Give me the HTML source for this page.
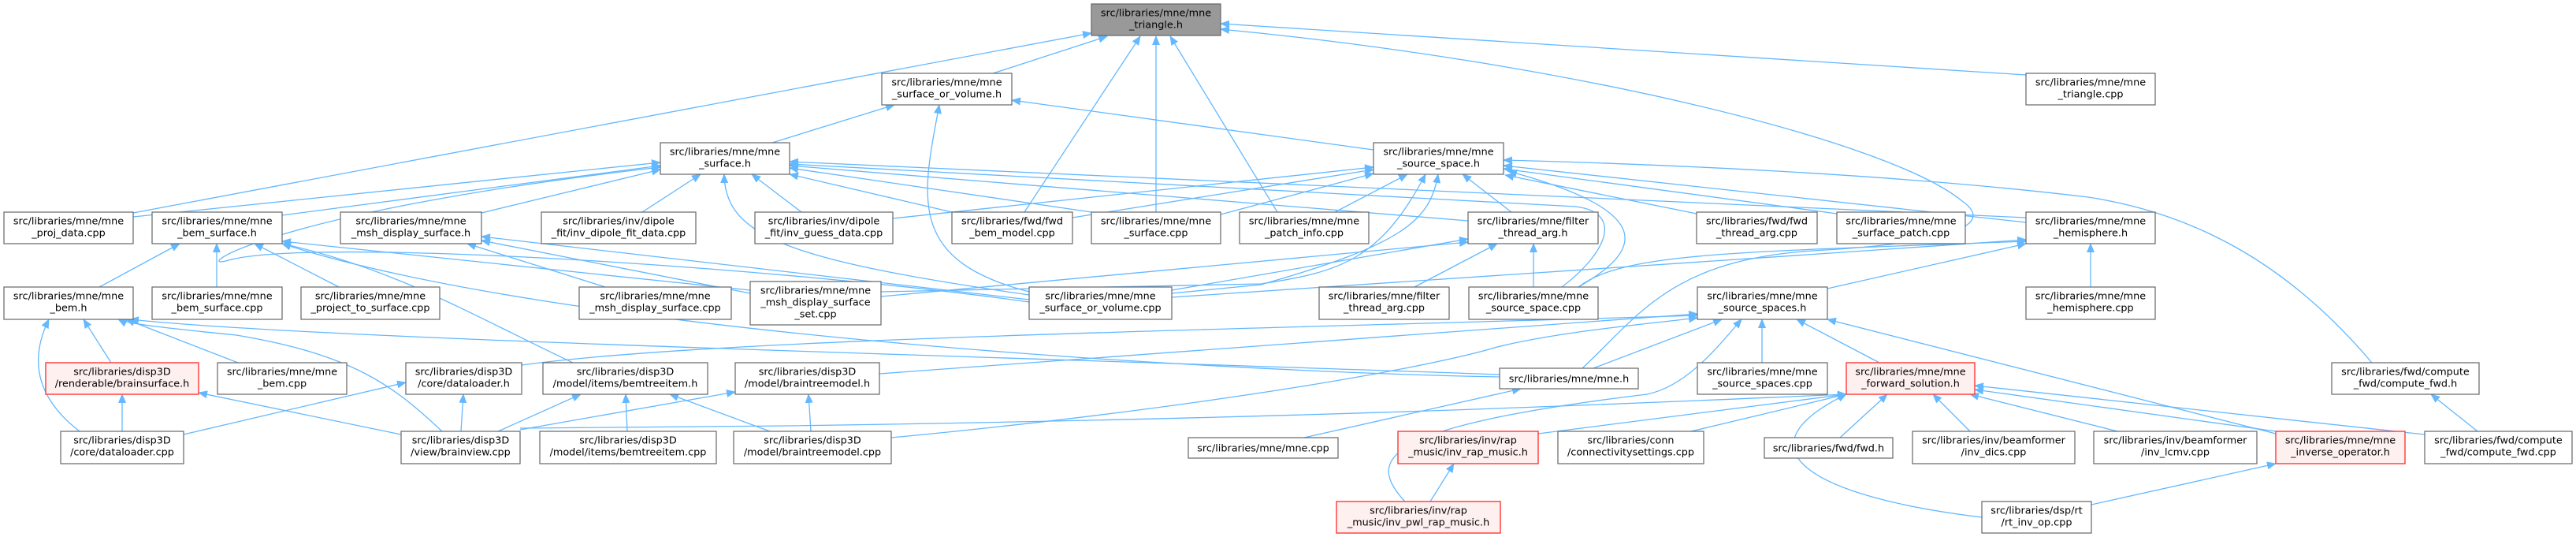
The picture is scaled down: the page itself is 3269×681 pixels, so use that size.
<!DOCTYPE html>
<html><head><meta charset="utf-8"><style>
html,body{margin:0;padding:0;background:#fff;}
svg{display:block;}
text{font-family:"DejaVu Sans","Liberation Sans",sans-serif;font-size:12.8px;fill:#000;text-anchor:middle;}
.n{fill:#fff;stroke:#666;stroke-width:1.2;}
.r{fill:#fff0f0;stroke:#f44;stroke-width:1.5;}
.g{fill:#999;stroke:#666;stroke-width:1.2;}
.e{fill:none;stroke:#63b8ff;stroke-width:1.3;}
</style></head><body>
<svg width="3269" height="681" viewBox="0 0 3269 681" xmlns="http://www.w3.org/2000/svg">
<defs><marker id="a" markerUnits="userSpaceOnUse" markerWidth="12" markerHeight="10" refX="11" refY="5" orient="auto"><path d="M0,0 L12,5 L0,10 z" fill="#63b8ff"/></marker></defs>
<g class="edges">
<path class="e" marker-end="url(#a)" d="M169,270 L1385,42"/>
<path class="e" marker-end="url(#a)" d="M1260,93 L1405,46"/>
<path class="e" marker-end="url(#a)" d="M1300,269 L1447,46"/>
<path class="e" marker-end="url(#a)" d="M1467,269 L1467,46"/>
<path class="e" marker-end="url(#a)" d="M1621,269 L1485,46"/>
<path class="e" marker-end="url(#a)" d="M2571,95 L1549,30"/>
<path class="e" marker-end="url(#a)" d="M2008,467 C2080,400 2120,330 2300,318 C2450,310 2540,290 2490,255 C2400,180 2000,80 1549,37"/>
<path class="e" marker-end="url(#a)" d="M980,181 L1135,133"/>
<path class="e" marker-end="url(#a)" d="M1306,370 C1150,330 1170,250 1192,133"/>
<path class="e" marker-end="url(#a)" d="M1743,190 L1284,127"/>
<path class="e" marker-end="url(#a)" d="M169,275 L838,206"/>
<path class="e" marker-end="url(#a)" d="M358,273 L838,210"/>
<path class="e" marker-end="url(#a)" d="M611,270 L838,215"/>
<path class="e" marker-end="url(#a)" d="M815,269 L889,221"/>
<path class="e" marker-end="url(#a)" d="M1017,269 L954,221"/>
<path class="e" marker-end="url(#a)" d="M1306,374 C1000,330 920,300 919,221"/>
<path class="e" marker-end="url(#a)" d="M1208,269 L1002,221"/>
<path class="e" marker-end="url(#a)" d="M1385,269 L1002,213"/>
<path class="e" marker-end="url(#a)" d="M2571,276 L1002,205"/>
<path class="e" marker-end="url(#a)" d="M1863,280 L1002,210"/>
<path class="e" marker-end="url(#a)" d="M1982,364 C2040,320 2060,270 2000,262 L1002,208"/>
<path class="e" marker-end="url(#a)" d="M1306,383 C1000,340 400,300 290,330 C240,345 330,270 838,212"/>
<path class="e" marker-end="url(#a)" d="M1133,277 L1743,212"/>
<path class="e" marker-end="url(#a)" d="M1361,276 L1743,215"/>
<path class="e" marker-end="url(#a)" d="M1549,272 L1743,220"/>
<path class="e" marker-end="url(#a)" d="M1694,269 L1786,221"/>
<path class="e" marker-end="url(#a)" d="M1918,269 L1856,221"/>
<path class="e" marker-end="url(#a)" d="M2003,364 C2080,320 2110,270 1914,217"/>
<path class="e" marker-end="url(#a)" d="M2153,271 L1910,222"/>
<path class="e" marker-end="url(#a)" d="M2331,271 L1908,214"/>
<path class="e" marker-end="url(#a)" d="M2571,282 L1908,210"/>
<path class="e" marker-end="url(#a)" d="M3010,460 C2900,330 2780,270 2650,250 C2400,220 2100,208 1908,203"/>
<path class="e" marker-end="url(#a)" d="M1118,370 L1600,360 C1700,345 1752,330 1809,221"/>
<path class="e" marker-end="url(#a)" d="M1487,372 L1600,361 C1780,310 1815,280 1825,221"/>
<path class="e" marker-end="url(#a)" d="M1795,364 L1900,309"/>
<path class="e" marker-end="url(#a)" d="M1946,364 L1946,309"/>
<path class="e" marker-end="url(#a)" d="M1118,376 L1863,307"/>
<path class="e" marker-end="url(#a)" d="M1487,368 L1863,303"/>
<path class="e" marker-end="url(#a)" d="M2653,364 L2653,309"/>
<path class="e" marker-end="url(#a)" d="M2319,366 L2571,309"/>
<path class="e" marker-end="url(#a)" d="M2003,364 C2060,320 2200,320 2571,306"/>
<path class="e" marker-end="url(#a)" d="M1487,377 C1800,355 2200,330 2571,304"/>
<path class="e" marker-end="url(#a)" d="M2236,460 L2236,405"/>
<path class="e" marker-end="url(#a)" d="M2385,460 L2280,405"/>
<path class="e" marker-end="url(#a)" d="M2022,467 L2185,405"/>
<path class="e" marker-end="url(#a)" d="M1783,636 C1730,580 1760,540 2090,500 C2140,490 2180,440 2210,405"/>
<path class="e" marker-end="url(#a)" d="M1116,474 L2154,398"/>
<path class="e" marker-end="url(#a)" d="M662,463 C900,430 1500,420 2154,400"/>
<path class="e" marker-end="url(#a)" d="M1131,555 C1500,520 1800,470 1900,440 C1980,420 2100,410 2154,403"/>
<path class="e" marker-end="url(#a)" d="M2888,550 L2319,405"/>
<path class="e" marker-end="url(#a)" d="M2335,555 L2395,500"/>
<path class="e" marker-end="url(#a)" d="M2500,547 L2453,500"/>
<path class="e" marker-end="url(#a)" d="M2687,547 L2500,500"/>
<path class="e" marker-end="url(#a)" d="M2888,547 L2506,494"/>
<path class="e" marker-end="url(#a)" d="M3077,551 L2506,489"/>
<path class="e" marker-end="url(#a)" d="M2515,656 C2300,630 2200,570 2343,500"/>
<path class="e" marker-end="url(#a)" d="M2146,547 L2343,500"/>
<path class="e" marker-end="url(#a)" d="M1952,550 L2343,500"/>
<path class="e" marker-end="url(#a)" d="M660,543 L1000,540 C1700,530 2100,510 2343,500"/>
<path class="e" marker-end="url(#a)" d="M1655,555 L1930,493"/>
<path class="e" marker-end="url(#a)" d="M1903,478 C1500,470 700,420 358,309"/>
<path class="e" marker-end="url(#a)" d="M727,460 C600,400 500,340 358,309"/>
<path class="e" marker-end="url(#a)" d="M952,368 L358,306"/>
<path class="e" marker-end="url(#a)" d="M141,460 L106,405"/>
<path class="e" marker-end="url(#a)" d="M101,547 C40,500 40,450 62,405"/>
<path class="e" marker-end="url(#a)" d="M302,460 L160,405"/>
<path class="e" marker-end="url(#a)" d="M561,547 C500,490 450,450 300,425 C200,415 160,410 150,405"/>
<path class="e" marker-end="url(#a)" d="M1903,475 C1200,450 400,430 165,405"/>
<path class="e" marker-end="url(#a)" d="M155,547 L155,500"/>
<path class="e" marker-end="url(#a)" d="M509,551 L252,498"/>
<path class="e" marker-end="url(#a)" d="M233,551 L515,485"/>
<path class="e" marker-end="url(#a)" d="M585,547 L588,500"/>
<path class="e" marker-end="url(#a)" d="M632,547 L737,500"/>
<path class="e" marker-end="url(#a)" d="M796,547 L794,500"/>
<path class="e" marker-end="url(#a)" d="M977,547 L850,500"/>
<path class="e" marker-end="url(#a)" d="M660,545 L933,497"/>
<path class="e" marker-end="url(#a)" d="M1029,547 L1026,500"/>
<path class="e" marker-end="url(#a)" d="M768,364 L593,309"/>
<path class="e" marker-end="url(#a)" d="M952,372 L611,305"/>
<path class="e" marker-end="url(#a)" d="M1306,380 L611,300"/>
<path class="e" marker-end="url(#a)" d="M126,364 L228,309"/>
<path class="e" marker-end="url(#a)" d="M275,364 L275,309"/>
<path class="e" marker-end="url(#a)" d="M430,364 L323,309"/>
<path class="e" marker-end="url(#a)" d="M2654,640 L2888,588"/>
<path class="e" marker-end="url(#a)" d="M3144,547 L3085,500"/>
<path class="e" marker-end="url(#a)" d="M1815,636 L1845,588"/>
</g>
<g class="nodes">
<rect class="g" x="1385" y="5" width="164" height="40"/><text x="1467" y="20.5">src/libraries/mne/mne</text><text x="1467" y="35.5">_triangle.h</text>
<rect class="n" x="1119" y="93" width="165" height="40"/><text x="1201.5" y="108.5">src/libraries/mne/mne</text><text x="1201.5" y="123.5">_surface_or_volume.h</text>
<rect class="n" x="2571" y="93" width="164" height="40"/><text x="2653" y="108.5">src/libraries/mne/mne</text><text x="2653" y="123.5">_triangle.cpp</text>
<rect class="n" x="838" y="181" width="164" height="40"/><text x="920" y="196.5">src/libraries/mne/mne</text><text x="920" y="211.5">_surface.h</text>
<rect class="n" x="1743" y="181" width="165" height="40"/><text x="1825.5" y="196.5">src/libraries/mne/mne</text><text x="1825.5" y="211.5">_source_space.h</text>

<rect class="n" x="5" y="269" width="164" height="40"/><text x="87" y="284.5">src/libraries/mne/mne</text><text x="87" y="299.5">_proj_data.cpp</text>
<rect class="n" x="193" y="269" width="165" height="40"/><text x="275.5" y="284.5">src/libraries/mne/mne</text><text x="275.5" y="299.5">_bem_surface.h</text>
<rect class="n" x="432" y="269" width="179" height="40"/><text x="521.5" y="284.5">src/libraries/mne/mne</text><text x="521.5" y="299.5">_msh_display_surface.h</text>
<rect class="n" x="687" y="269" width="196" height="40"/><text x="785" y="284.5">src/libraries/inv/dipole</text><text x="785" y="299.5">_fit/inv_dipole_fit_data.cpp</text>
<rect class="n" x="958" y="269" width="175" height="40"/><text x="1045.5" y="284.5">src/libraries/inv/dipole</text><text x="1045.5" y="299.5">_fit/inv_guess_data.cpp</text>
<rect class="n" x="1208" y="269" width="153" height="40"/><text x="1284.5" y="284.5">src/libraries/fwd/fwd</text><text x="1284.5" y="299.5">_bem_model.cpp</text>
<rect class="n" x="1385" y="269" width="164" height="40"/><text x="1467" y="284.5">src/libraries/mne/mne</text><text x="1467" y="299.5">_surface.cpp</text>
<rect class="n" x="1573" y="269" width="164" height="40"/><text x="1655" y="284.5">src/libraries/mne/mne</text><text x="1655" y="299.5">_patch_info.cpp</text>
<rect class="n" x="1863" y="269" width="165" height="40"/><text x="1945.5" y="284.5">src/libraries/mne/filter</text><text x="1945.5" y="299.5">_thread_arg.h</text>
<rect class="n" x="2153" y="269" width="153" height="40"/><text x="2229.5" y="284.5">src/libraries/fwd/fwd</text><text x="2229.5" y="299.5">_thread_arg.cpp</text>
<rect class="n" x="2331" y="269" width="163" height="40"/><text x="2412.5" y="284.5">src/libraries/mne/mne</text><text x="2412.5" y="299.5">_surface_patch.cpp</text>
<rect class="n" x="2571" y="269" width="164" height="40"/><text x="2653" y="284.5">src/libraries/mne/mne</text><text x="2653" y="299.5">_hemisphere.h</text>

<rect class="n" x="5" y="364" width="164" height="41"/><text x="87" y="379.5">src/libraries/mne/mne</text><text x="87" y="394.5">_bem.h</text>
<rect class="n" x="193" y="364" width="165" height="41"/><text x="275.5" y="379.5">src/libraries/mne/mne</text><text x="275.5" y="394.5">_bem_surface.cpp</text>
<rect class="n" x="382" y="364" width="176" height="41"/><text x="470" y="379.5">src/libraries/mne/mne</text><text x="470" y="394.5">_project_to_surface.cpp</text>
<rect class="n" x="735" y="364" width="193" height="41"/><text x="831.5" y="379.5">src/libraries/mne/mne</text><text x="831.5" y="394.5">_msh_display_surface.cpp</text>
<rect class="n" x="952" y="357" width="166" height="55"/><text x="1035" y="372.5">src/libraries/mne/mne</text><text x="1035" y="387.5">_msh_display_surface</text><text x="1035" y="402.5">_set.cpp</text>
<rect class="n" x="1306" y="364" width="181" height="41"/><text x="1396.5" y="379.5">src/libraries/mne/mne</text><text x="1396.5" y="394.5">_surface_or_volume.cpp</text>
<rect class="n" x="1674" y="364" width="165" height="41"/><text x="1756.5" y="379.5">src/libraries/mne/filter</text><text x="1756.5" y="394.5">_thread_arg.cpp</text>
<rect class="n" x="1864" y="364" width="164" height="41"/><text x="1946" y="379.5">src/libraries/mne/mne</text><text x="1946" y="394.5">_source_space.cpp</text>
<rect class="n" x="2154" y="364" width="165" height="41"/><text x="2236.5" y="379.5">src/libraries/mne/mne</text><text x="2236.5" y="394.5">_source_spaces.h</text>
<rect class="n" x="2571" y="364" width="164" height="41"/><text x="2653" y="379.5">src/libraries/mne/mne</text><text x="2653" y="394.5">_hemisphere.cpp</text>

<rect class="r" x="58" y="460" width="194" height="40"/><text x="155" y="475.5">src/libraries/disp3D</text><text x="155" y="490.5">/renderable/brainsurface.h</text>
<rect class="n" x="276" y="460" width="164" height="40"/><text x="358" y="475.5">src/libraries/mne/mne</text><text x="358" y="490.5">_bem.cpp</text>
<rect class="n" x="515" y="460" width="147" height="40"/><text x="588.5" y="475.5">src/libraries/disp3D</text><text x="588.5" y="490.5">/core/dataloader.h</text>
<rect class="n" x="689" y="460" width="209" height="40"/><text x="793.5" y="475.5">src/libraries/disp3D</text><text x="793.5" y="490.5">/model/items/bemtreeitem.h</text>
<rect class="n" x="933" y="460" width="183" height="40"/><text x="1024.5" y="475.5">src/libraries/disp3D</text><text x="1024.5" y="490.5">/model/braintreemodel.h</text>
<rect class="n" x="1903" y="467" width="176" height="26"/><text x="1991" y="484.5">src/libraries/mne/mne.h</text>
<rect class="n" x="2154" y="460" width="165" height="40"/><text x="2236.5" y="475.5">src/libraries/mne/mne</text><text x="2236.5" y="490.5">_source_spaces.cpp</text>
<rect class="r" x="2343" y="460" width="163" height="40"/><text x="2424.5" y="475.5">src/libraries/mne/mne</text><text x="2424.5" y="490.5">_forward_solution.h</text>
<rect class="n" x="2959" y="460" width="187" height="40"/><text x="3052.5" y="475.5">src/libraries/fwd/compute</text><text x="3052.5" y="490.5">_fwd/compute_fwd.h</text>

<rect class="n" x="77" y="547" width="156" height="41"/><text x="155" y="562.5">src/libraries/disp3D</text><text x="155" y="577.5">/core/dataloader.cpp</text>
<rect class="n" x="509" y="547" width="151" height="41"/><text x="584.5" y="562.5">src/libraries/disp3D</text><text x="584.5" y="577.5">/view/brainview.cpp</text>
<rect class="n" x="685" y="547" width="224" height="41"/><text x="797" y="562.5">src/libraries/disp3D</text><text x="797" y="577.5">/model/items/bemtreeitem.cpp</text>
<rect class="n" x="931" y="547" width="200" height="41"/><text x="1031" y="562.5">src/libraries/disp3D</text><text x="1031" y="577.5">/model/braintreemodel.cpp</text>
<rect class="n" x="1508" y="555" width="190" height="26"/><text x="1603" y="572.5">src/libraries/mne/mne.cpp</text>
<rect class="r" x="1774" y="547" width="178" height="41"/><text x="1863" y="562.5">src/libraries/inv/rap</text><text x="1863" y="577.5">_music/inv_rap_music.h</text>
<rect class="n" x="1977" y="547" width="185" height="41"/><text x="2069.5" y="562.5">src/libraries/conn</text><text x="2069.5" y="577.5">/connectivitysettings.cpp</text>
<rect class="n" x="2239" y="555" width="163" height="26"/><text x="2320.5" y="572.5">src/libraries/fwd/fwd.h</text>
<rect class="n" x="2427" y="547" width="206" height="41"/><text x="2530" y="562.5">src/libraries/inv/beamformer</text><text x="2530" y="577.5">/inv_dics.cpp</text>
<rect class="n" x="2657" y="547" width="207" height="41"/><text x="2760.5" y="562.5">src/libraries/inv/beamformer</text><text x="2760.5" y="577.5">/inv_lcmv.cpp</text>
<rect class="r" x="2888" y="547" width="164" height="41"/><text x="2970" y="562.5">src/libraries/mne/mne</text><text x="2970" y="577.5">_inverse_operator.h</text>
<rect class="n" x="3077" y="547" width="187" height="41"/><text x="3170.5" y="562.5">src/libraries/fwd/compute</text><text x="3170.5" y="577.5">_fwd/compute_fwd.cpp</text>

<rect class="r" x="1696" y="636" width="208" height="40"/><text x="1800" y="651.5">src/libraries/inv/rap</text><text x="1800" y="666.5">_music/inv_pwl_rap_music.h</text>
<rect class="n" x="2515" y="636" width="139" height="40"/><text x="2584.5" y="651.5">src/libraries/dsp/rt</text><text x="2584.5" y="666.5">/rt_inv_op.cpp</text>
</g>
</svg>
</body></html>
